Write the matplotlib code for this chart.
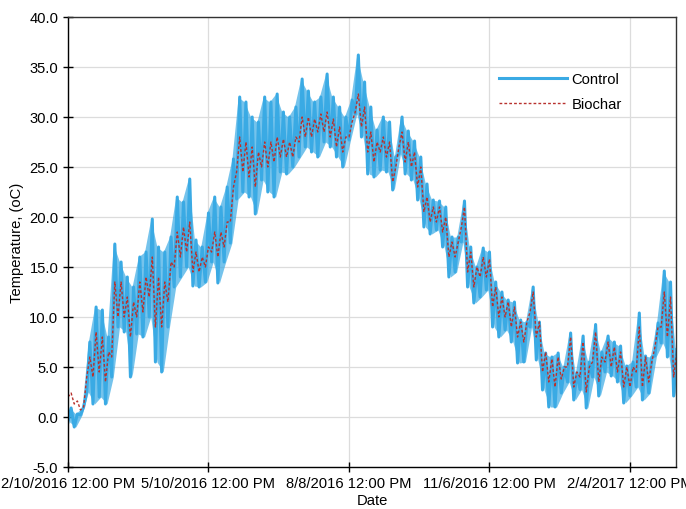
import numpy as np
import matplotlib
matplotlib.use("Agg")
import matplotlib.pyplot as plt
import matplotlib.dates as mdates
from matplotlib.ticker import FuncFormatter
from datetime import datetime, timedelta

# ---- data: 4-day bins, days since 2/10/2016 12:00 PM ----
bin_days = list(range(0, 389, 4))
control_max = [0.9, 0.3, 1.0, 7.5, 11.0, 10.7, 8.0, 17.3, 15.5, 14.0,
               13.0, 16.0, 16.5, 19.8, 17.0, 16.5, 18.0, 22.0, 21.5, 23.8,
               17.7, 17.0, 20.4, 22.0, 21.0, 23.0, 25.8, 32.0, 31.5, 30.0,
               29.5, 32.0, 31.5, 32.3, 30.5, 30.0, 31.0, 33.8, 32.6, 31.5,
               32.0, 34.3, 32.0, 31.0, 30.0, 31.7, 36.2, 33.5, 31.0, 28.7,
               30.0, 29.5, 26.0, 30.0, 28.6, 27.6, 26.0, 23.3, 21.7, 21.6,
               21.0, 18.0, 18.0, 21.6, 17.0, 15.0, 16.9, 16.5, 13.5, 12.5,
               11.7, 11.5, 9.7, 9.5, 13.0, 9.5, 6.4, 6.0, 6.4, 5.0,
               8.4, 4.4, 8.1, 5.5, 9.25, 6.5, 8.1, 7.5, 7.1, 5.1,
               5.5, 10.4, 6.1, 6.0, 9.4, 14.6, 13.5, 6.75]
control_min = [-0.5, -1.0, 0.2, 2.5, 1.3, 2.0, 1.3, 4.0, 9.0, 8.5,
               4.0, 8.3, 8.0, 10.0, 5.5, 4.5, 9.0, 13.0, 14.0, 15.0,
               13.1, 13.0, 13.5, 15.5, 13.4, 15.5, 17.4, 21.8, 22.5, 22.0,
               20.3, 23.7, 22.5, 22.0, 24.5, 24.3, 25.0, 26.0, 27.0, 26.5,
               26.0, 27.5, 27.0, 26.0, 25.0, 27.7, 30.3, 28.0, 24.3, 24.0,
               24.7, 24.5, 22.7, 26.3, 24.3, 23.7, 21.7, 19.0, 18.3, 18.7,
               17.0, 14.0, 14.5, 17.5, 13.0, 11.4, 12.0, 12.7, 9.0, 8.0,
               8.7, 7.5, 5.4, 5.5, 9.0, 5.7, 2.7, 1.0, 1.0, 2.4,
               3.5, 1.7, 2.75, 0.9, 4.0, 2.1, 4.5, 4.1, 3.5, 1.4,
               2.1, 3.0, 1.7, 2.4, 6.1, 7.4, 6.0, 2.1]
biochar_max = [2.4, 1.6, 1.0, 6.0, 8.5, 8.0, 6.5, 13.5, 13.5, 12.0,
               11.5, 13.5, 14.0, 16.0, 14.0, 13.5, 15.5, 18.5, 19.0, 19.5,
               16.5, 16.0, 17.0, 18.5, 18.5, 19.5, 23.0, 28.0, 27.5, 27.0,
               26.5, 27.5, 27.5, 28.0, 27.8, 27.5, 28.0, 30.0, 30.0, 29.8,
               30.3, 30.5, 29.8, 29.0, 28.0, 29.5, 32.3, 31.0, 28.5, 27.5,
               28.0, 27.5, 25.0, 28.5, 27.5, 26.5, 25.0, 22.0, 21.0, 21.0,
               20.0, 17.5, 17.5, 21.0, 16.5, 15.0, 16.0, 15.8, 13.0, 12.0,
               11.5, 11.0, 9.5, 9.5, 12.5, 9.5, 6.5, 5.8, 6.0, 5.0,
               8.0, 4.5, 7.5, 5.0, 8.5, 6.0, 7.5, 7.0, 6.5, 5.0,
               5.0, 9.0, 6.0, 5.5, 9.0, 12.5, 12.0, 6.5]
biochar_min = [2.0, 1.3, 0.7, 4.0, 4.0, 4.5, 3.5, 6.0, 10.0, 10.0,
               8.0, 10.0, 10.5, 12.0, 9.0, 9.0, 11.5, 15.0, 16.0, 16.5,
               14.5, 14.5, 15.0, 16.5, 16.0, 17.0, 19.5, 24.5, 24.5, 24.0,
               23.0, 25.0, 25.0, 25.5, 26.0, 26.0, 26.0, 27.5, 28.0, 28.0,
               28.5, 28.5, 28.0, 27.0, 26.5, 28.0, 30.5, 29.0, 26.5, 25.5,
               26.5, 26.0, 23.5, 27.0, 25.5, 25.0, 23.0, 20.5, 19.5, 19.5,
               18.5, 16.0, 16.0, 19.0, 14.5, 13.0, 14.0, 14.0, 11.0, 10.0,
               10.0, 9.0, 8.0, 7.5, 10.5, 8.0, 4.5, 3.5, 3.0, 3.8,
               5.0, 3.0, 4.0, 2.5, 5.5, 3.5, 5.5, 5.0, 4.5, 3.0,
               3.0, 4.5, 3.0, 3.5, 7.0, 9.0, 8.0, 4.0]

series_names = ["Control", "Biochar"]
y_ticks = [-5, 0, 5, 10, 15, 20, 25, 30, 35, 40]

start = datetime(2016, 2, 10, 12, 0)
tick_dates = [start + timedelta(days=90 * k) for k in range(5)]
x_end = start + timedelta(days=389.5)

BLUE = "#3aaae4"
RED = "#b8322e"


def zigzag(mins, maxs):
    t, v = [], []
    for d, lo, hi in zip(bin_days, mins, maxs):
        t += [start + timedelta(days=d), start + timedelta(days=d + 2)]
        v += [lo, hi]
    return t, v


plt.rcParams['font.family'] = ['Liberation Sans', 'DejaVu Sans']
fig = plt.figure(figsize=(6.86, 5.10), dpi=100)
ax = fig.add_axes([68 / 686, 1 - 468 / 510, (676 - 68) / 686, (468 - 18) / 510])

# envelope of the daily swing (control band)
t_bins = [start + timedelta(days=d + 1) for d in bin_days]
ax.fill_between(t_bins, control_min, control_max, color=BLUE, alpha=0.7, lw=0)

tc, vc = zigzag(control_min, control_max)
tb, vb = zigzag(biochar_min, biochar_max)
ax.plot(tc, vc, color=BLUE, lw=2.2, label=series_names[0])
ax.plot(tb, vb, color=RED, lw=1.0, ls=(0, (2, 1.5)), label=series_names[1])

ax.set_xlim(start, x_end)
ax.set_ylim(-5, 40)
ax.set_yticks(y_ticks)
ax.yaxis.set_major_formatter(FuncFormatter(lambda v, p: f"{v:.1f}"))
ax.set_xticks(tick_dates)


def fmt_date(x, pos):
    d = mdates.num2date(x)
    return f"{d.month}/{d.day}/{d.year} 12:00 PM"


ax.xaxis.set_major_formatter(FuncFormatter(fmt_date))
ax.grid(True, color="#dcdcdc", lw=0.9)
ax.set_axisbelow(True)
for s in ax.spines.values():
    s.set_color("#333333")
    s.set_linewidth(1.0)
ax.spines['left'].set_color('black')
ax.spines['bottom'].set_color('black')
ax.tick_params(axis='both', direction='inout', length=7, width=1, labelsize=10.6, colors='black')
ax.tick_params(axis='x', pad=3)
ax.set_xlabel("Date", fontsize=10.6, labelpad=2)
ax.set_ylabel("Temperature, (oC)", fontsize=10.6, labelpad=4)

leg = ax.legend(loc='upper left', bbox_to_anchor=(486 / 686, 1 - 60 / 510),
                bbox_transform=fig.transFigure, frameon=False, fontsize=10.6,
                handlelength=4.6, handletextpad=0.3, labelspacing=0.75)

fig.savefig("out.png", dpi=100)
